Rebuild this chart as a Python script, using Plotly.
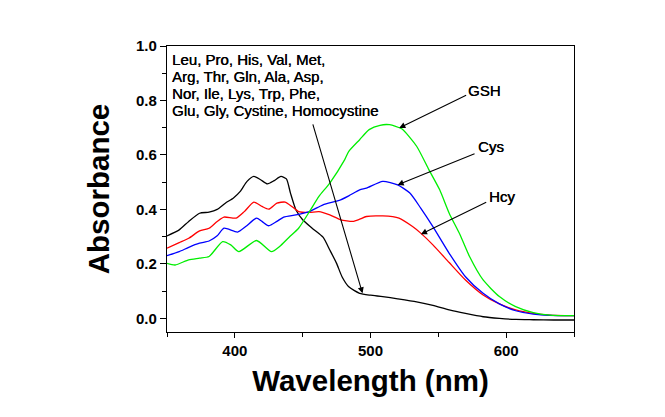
import plotly.graph_objects as go

# ---- data ----
wl_free = [350, 359, 366, 374, 381, 387, 393, 399, 404, 409, 414, 419, 424, 429, 434, 438, 441, 445, 450,
           457, 465, 470, 475, 479, 484, 492, 500, 509, 520, 534, 546, 558, 570, 583, 595, 607, 620, 635, 650]
abs_free = [0.303, 0.325, 0.356, 0.386, 0.39, 0.40, 0.423, 0.442, 0.466, 0.503, 0.521, 0.509, 0.494, 0.506,
            0.521, 0.512, 0.46, 0.399, 0.362, 0.331, 0.298, 0.251, 0.202, 0.153, 0.116, 0.092, 0.085, 0.08,
            0.072, 0.061, 0.048, 0.031, 0.018, 0.006, 0.0, -0.004, -0.005, -0.006, -0.006]

wl_hcy = [350, 359, 366, 374, 381, 387, 392, 401, 407, 414, 420, 425, 431, 437, 442, 447, 455, 462, 470,
          478, 487, 492, 497, 509, 521, 531, 537, 546, 558, 570, 583, 595, 607, 620, 632, 650]
abs_hcy = [0.258, 0.278, 0.294, 0.321, 0.331, 0.356, 0.372, 0.368, 0.392, 0.427, 0.411, 0.401, 0.423,
           0.427, 0.411, 0.392, 0.389, 0.392, 0.38, 0.362, 0.356, 0.364, 0.374, 0.376, 0.368, 0.337, 0.313,
           0.27, 0.205, 0.141, 0.086, 0.053, 0.031, 0.018, 0.012, 0.01]

wl_cys = [350, 359, 366, 374, 381, 387, 392, 402, 408, 416, 420, 425, 431, 436, 445, 455, 465, 477, 484,
          492, 497, 509, 520, 529, 537, 546, 558, 570, 583, 595, 607, 620, 632, 650]
abs_cys = [0.23, 0.245, 0.261, 0.276, 0.284, 0.303, 0.331, 0.317, 0.337, 0.368, 0.356, 0.34, 0.356, 0.372,
           0.38, 0.392, 0.417, 0.433, 0.45, 0.472, 0.478, 0.503, 0.49, 0.46, 0.405, 0.337, 0.239, 0.153,
           0.092, 0.053, 0.028, 0.016, 0.011, 0.01]

wl_gsh = [350, 356, 366, 374, 381, 391, 397, 403, 416, 427, 433, 440, 447, 455, 462, 470, 481, 484, 492,
          499, 507, 514, 523, 534, 543, 551, 558, 566, 573, 583, 595, 607, 620, 632, 650]
abs_gsh = [0.202, 0.196, 0.215, 0.221, 0.227, 0.282, 0.27, 0.245, 0.286, 0.245, 0.264, 0.298, 0.331,
           0.392, 0.448, 0.497, 0.583, 0.613, 0.656, 0.693, 0.709, 0.711, 0.696, 0.632, 0.546, 0.472,
           0.386, 0.307, 0.227, 0.141, 0.08, 0.043, 0.021, 0.012, 0.01]

series_names = ["Free", "Hcy", "Cys", "GSH"]
series_colors = ["#000000", "#ff0000", "#0000ff", "#00ee00"]

block_lines = ["Leu, Pro, His, Val, Met,",
               "Arg, Thr, Gln, Ala, Asp,",
               "Nor, Ile, Lys, Trp, Phe,",
               "Glu, Gly, Cystine, Homocystine"]
block_y = [0.949, 0.887, 0.826, 0.762]

labels = ["GSH", "Cys", "Hcy"]
label_pos = [(584, 0.838), (589, 0.632), (597, 0.448)]
arrow_tail = [(571.6, 0.822), (577.8, 0.607), (586.4, 0.429)]
arrow_head = [(521.2, 0.699), (520.0, 0.49), (537.2, 0.309)]
free_tail = (457.2, 0.718)
free_head = (494.1, 0.092)

FONT = "Liberation Sans, Arial, sans-serif"
HEAVY = "0.35px 0px 0px #000"

fig = go.Figure()
for name, xs, ys, col in zip(series_names, [wl_free, wl_hcy, wl_cys, wl_gsh],
                             [abs_free, abs_hcy, abs_cys, abs_gsh], series_colors):
    fig.add_trace(go.Scatter(x=xs, y=ys, mode="lines", name=name,
                             line=dict(color=col, width=1.3, shape="spline", smoothing=0.6),
                             showlegend=False))

annotations = []
for txt, yy in zip(block_lines, block_y):
    annotations.append(dict(x=352, y=yy, xref="x", yref="y", text=txt, showarrow=False,
                            xanchor="left", yanchor="middle",
                            font=dict(family=FONT, size=15, color="black", shadow=HEAVY)))
for txt, (lx, ly) in zip(labels, label_pos):
    annotations.append(dict(x=lx, y=ly, xref="x", yref="y", text=txt, showarrow=False,
                            xanchor="center", yanchor="middle",
                            font=dict(family=FONT, size=15, color="black", shadow=HEAVY)))
for (tx, ty), (hx, hy) in zip(arrow_tail + [free_tail], arrow_head + [free_head]):
    annotations.append(dict(x=hx, y=hy, ax=tx, ay=ty, xref="x", yref="y", axref="x", ayref="y",
                            text="", showarrow=True, arrowhead=2, arrowsize=1.1, arrowwidth=1.1,
                            arrowcolor="black", standoff=0, startstandoff=0))

# page body has an 8px default margin, so the figure is sized/offset to compensate
fig.update_layout(
    width=657, height=409,
    margin=dict(l=159, r=91, t=38, b=85),
    paper_bgcolor="white", plot_bgcolor="white",
    font=dict(family=FONT, color="black"),
    annotations=annotations,
    xaxis=dict(range=[350, 650], dtick=100, tick0=400, showgrid=False, zeroline=False,
               showline=True, linecolor="black", linewidth=1.3, mirror=True,
               ticks="outside", ticklen=5, tickwidth=1.3, tickcolor="black",
               minor=dict(dtick=50, tick0=350, ticks="outside", ticklen=4, tickwidth=1.3, tickcolor="black"),
               tickfont=dict(family=FONT, size=15, color="black", weight="bold"),
               title=dict(text="Wavelength (nm)", standoff=12,
                          font=dict(family=FONT, size=29.5, color="black", weight="bold"))),
    yaxis=dict(range=[-0.05, 1.0], dtick=0.2, tick0=0, tickformat=".1f", showgrid=False, zeroline=False,
               showline=True, linecolor="black", linewidth=1.3, mirror=True,
               ticks="outside", ticklen=6, tickwidth=1.3, tickcolor="black",
               minor=dict(dtick=0.1, tick0=0, ticks="outside", ticklen=4, tickwidth=1.3, tickcolor="black"),
               tickfont=dict(family=FONT, size=15, color="black", weight="bold"),
               title=dict(text="Absorbance", standoff=17,
                          font=dict(family=FONT, size=29.5, color="black", weight="bold"))),
)

fig.write_html("out.html")
